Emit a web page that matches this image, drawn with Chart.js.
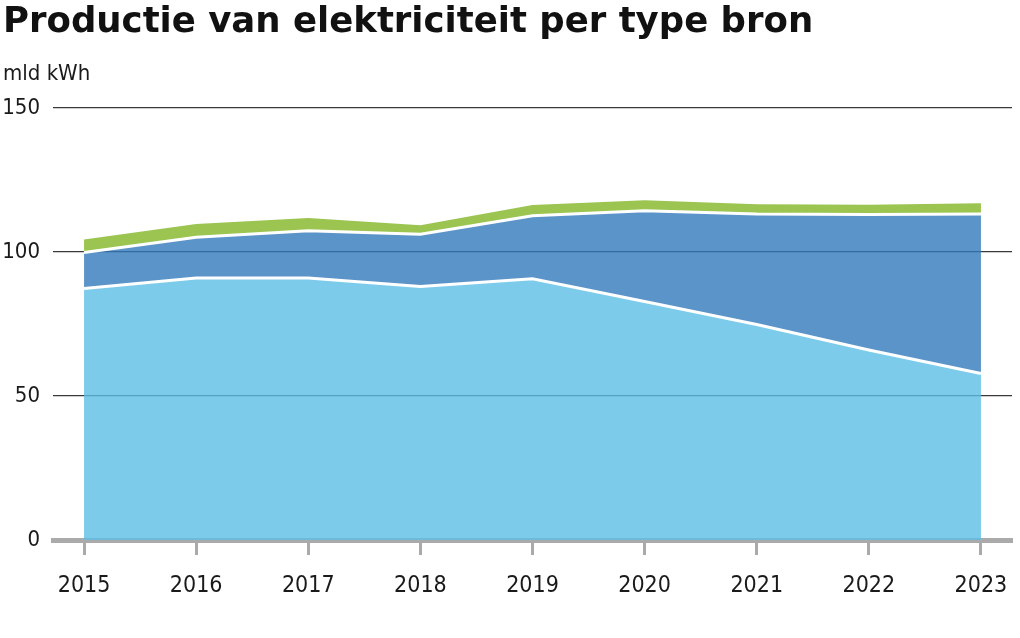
<!DOCTYPE html>
<html>
<head>
<meta charset="utf-8">
<script src="https://cdn.jsdelivr.net/npm/chart.js@4/dist/chart.umd.min.js"></script>
<style>
  html, body { margin: 0; padding: 0; background: #ffffff; }
  #wrap { width: 1020px; height: 638px; position: relative; }
</style>
</head>
<body>
<div id="wrap"><canvas id="c" width="1020" height="638"></canvas></div>
<script>
// ---- data (mld kWh) ----
const years = [2015, 2016, 2017, 2018, 2019, 2020, 2021, 2022, 2023];
const fossiel = [87.3, 91.0, 91.0, 88.0, 90.7, 82.8, 74.8, 66.0, 57.8];
const hernieuwbaar = [12.5, 14.1, 16.4, 18.2, 21.9, 31.5, 38.4, 47.0, 55.4];
const overig = [4.5, 4.6, 4.4, 3.1, 3.7, 3.7, 3.4, 3.4, 3.7];
const yTicks = [0, 50, 100, 150];

const titleText = 'Productie van elektriciteit per type bron';
const unitText = 'mld kWh';

const condensed = "'DejaVu Sans Condensed', 'Liberation Sans Narrow', sans-serif";

function pts(arr) { return years.map((y, i) => ({ x: y, y: arr[i] })); }

const ctx = document.getElementById('c').getContext('2d');
new Chart(ctx, {
  type: 'line',
  data: {
    datasets: [
      {
        label: 'Fossiel',
        data: pts(fossiel),
        backgroundColor: 'rgba(92,190,230,0.8)',
        borderColor: '#ffffff',
        borderWidth: 3,
        fill: 'origin',
        pointRadius: 0,
        tension: 0
      },
      {
        label: 'Hernieuwbaar',
        data: pts(hernieuwbaar),
        backgroundColor: 'rgba(49,121,188,0.8)',
        borderColor: '#ffffff',
        borderWidth: 3,
        fill: '-1',
        pointRadius: 0,
        tension: 0
      },
      {
        label: 'Overig',
        data: pts(overig),
        backgroundColor: '#9bc450',
        borderColor: 'rgba(0,0,0,0)',
        borderWidth: 0,
        fill: '-1',
        pointRadius: 0,
        tension: 0
      }
    ]
  },
  options: {
    responsive: false,
    animation: false,
    devicePixelRatio: 1,
    layout: { padding: { left: 3, right: 8, top: 0, bottom: 38 } },
    plugins: {
      legend: { display: false },
      tooltip: { enabled: false },
      title: {
        display: true,
        text: titleText,
        align: 'start',
        color: '#111111',
        font: { family: "'DejaVu Sans', sans-serif", weight: 'bold', size: 35.5, lineHeight: 1.2 },
        padding: { top: 1, bottom: 17 }
      },
      subtitle: {
        display: true,
        text: unitText,
        align: 'start',
        color: '#1a1a1a',
        font: { family: condensed, weight: 'normal', size: 22, lineHeight: 1.2 },
        padding: { top: 0, bottom: 21 }
      }
    },
    scales: {
      x: {
        type: 'linear',
        min: 2014.723,
        max: 2023.277,
        afterBuildTicks: (scale) => { scale.ticks = years.map(v => ({ value: v })); },
        afterFit: (scale) => { scale.height = 60; scale.paddingLeft = 0; scale.paddingRight = 0; },
        border: { display: true, color: '#aaaaaa', width: 5 },
        grid: {
          drawOnChartArea: false,
          drawTicks: true,
          tickLength: 15,
          tickWidth: 3,
          tickColor: '#aaaaaa'
        },
        ticks: {
          stepSize: 1,
          includeBounds: false,
          padding: 17,
          color: '#1a1a1a',
          font: { family: condensed, size: 23 },
          maxRotation: 0,
          autoSkip: false,
          callback: (v) => String(v)
        }
      },
      y: {
        stacked: true,
        min: 0,
        max: 150,
        afterBuildTicks: (scale) => { scale.ticks = yTicks.map(v => ({ value: v })); },
        afterFit: (scale) => { scale.width = 50; },
        border: { display: false },
        grid: {
          drawTicks: false,
          lineWidth: 1.2,
          color: (c) => (c.tick && c.tick.value === 0) ? 'rgba(0,0,0,0)' : '#3a3a3a'
        },
        ticks: {
          padding: 13,
          color: '#1a1a1a',
          font: { family: condensed, size: 22 },
          callback: (v) => String(v)
        }
      }
    }
  }
});
</script>
</body>
</html>
